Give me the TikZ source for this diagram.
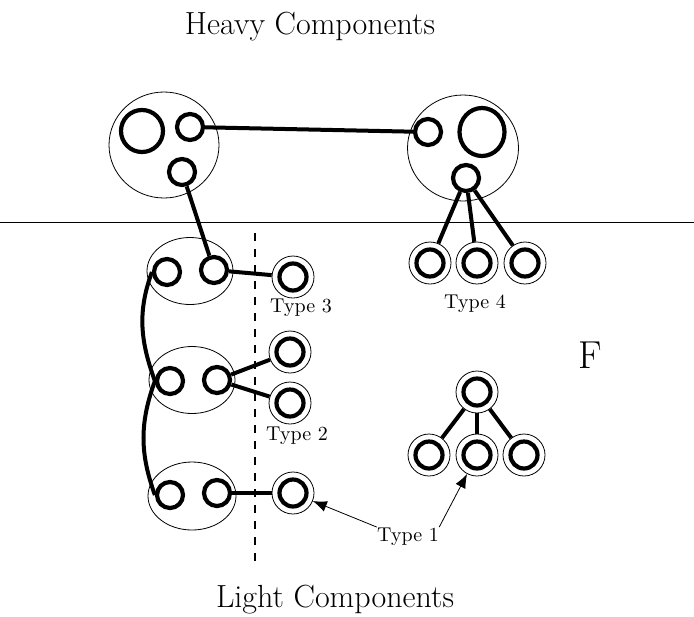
\documentclass[tikz,border=0pt]{standalone}
\usepackage{fontspec}
\usetikzlibrary{shapes.geometric,arrows.meta}

\begin{document}
\begin{tikzpicture}[x=0.5pt, y=-0.5pt,
	comp/.style={ellipse, draw, thin, inner sep=0pt},
	vert/.style={circle, draw, line width=2.1pt, minimum size=13pt, inner sep=0pt},
	bigvert/.style={ellipse, draw, line width=2.1pt, inner sep=0pt},
	leaf/.style={circle, draw, thin, minimum size=21pt, inner sep=0pt,
		path picture={\draw[line width=2.1pt] (path picture bounding box.center) circle (6.75pt);}},
	link/.style={line width=2pt},
	lbl/.style={anchor=base, inner sep=0pt}]
	\useasboundingbox (0,0) rectangle (694,616);
	
	% Titles
	\node[lbl, font=\fontsize{16}{19}\selectfont] (heavy) at (310,34) {Heavy Components};
	\node[lbl, font=\fontsize{16}{19}\selectfont] (light) at (335,607) {Light Components};
	\node[lbl, font=\fontsize{19.5}{23}\selectfont] (F) at (590,368) {F};
	
	% Separators
	\coordinate (sepL) at (0,222);
	\coordinate (sepR) at (694,222);
	\draw[thin] (sepL) -- (sepR);
	\coordinate (dashT) at (255,233);
	\coordinate (dashB) at (255,563);
	\draw[very thick, dash pattern=on 4pt off 4pt] (dashT) -- (dashB);
	
	% Heavy components
	\node[comp, minimum width=55pt, minimum height=53pt] (H1) at (164,145) {};
	\node[bigvert, minimum width=21pt, minimum height=21pt] (h1b) at (142,131) {};
	\node[vert] (h1r) at (190,127) {};
	\node[vert] (h1d) at (182,172) {};
	
	\node[comp, minimum width=55.5pt, minimum height=53pt] (H2) at (463,148) {};
	\node[vert] (h2l) at (428,132) {};
	\node[bigvert, minimum width=22.5pt, minimum height=24pt] (h2b) at (482,132) {};
	\node[vert] (h2d) at (466,178) {};
	
	\draw[link] (h1r) -- (h2l);
	
	% Type 4
	\foreach \x/\n in {430/a,477/b,525/c}
	{
		\node[leaf] (q\n) at (\x,263) {};
		\draw[link] (h2d) -- (q\n);
	}
	\node[lbl] (ty4) at (475,308) {Type 4};
	
	% Light components
	\node[comp, minimum width=43pt, minimum height=33.5pt] (L1) at (190,271) {};
	\node[vert] (l1a) at (167,272) {};
	\node[vert] (l1b) at (214,270) {};
	\node[comp, minimum width=43pt, minimum height=33.5pt] (L2) at (192,380) {};
	\node[vert] (l2a) at (170,381) {};
	\node[vert] (l2b) at (217,380) {};
	\node[comp, minimum width=44pt, minimum height=34pt] (L3) at (192,496) {};
	\node[vert] (l3a) at (170,495) {};
	\node[vert] (l3b) at (217,493) {};
	
	\draw[link] (h1d) -- (l1b);
	\draw[link] (l1a.west) to[out=-110, in=110] (l2a.west);
	\draw[link] (l2a.west) to[out=-110, in=110] (l3a.west);
	
	% Type 3, 2, 1
	\node[leaf] (p3) at (293,277) {};
	\draw[link] (l1b) -- (p3);
	\node[lbl] (ty3) at (301,312) {Type 3};
	
	\node[leaf] (p2a) at (290,352) {};
	\node[leaf] (p2b) at (290,403) {};
	\draw[link] (l2b) -- (p2a);
	\draw[link] (l2b) -- (p2b);
	\node[lbl] (ty2) at (297,440) {Type 2};
	
	\node[leaf] (p1) at (293,493) {};
	\draw[link] (l3b) -- (p1);
	
	% The tree in F
	\node[leaf] (f0) at (477,392) {};
	\foreach \x/\n in {429/a,477/b,524/c}
	{
		\node[leaf] (f\n) at (\x,455) {};
		\draw[link] (f0) -- (f\n);
	}
	
	% Type 1 arrows
	\node[lbl] (ty1) at (408,541) {Type 1};
	\draw[thin, -{Latex[length=7pt,width=5.5pt]}] (ty1.north west) -- (p1);
	\draw[thin, -{Latex[length=7pt,width=5.5pt]}] (ty1.north east) -- (fb);
	
\end{tikzpicture}
\end{document}
